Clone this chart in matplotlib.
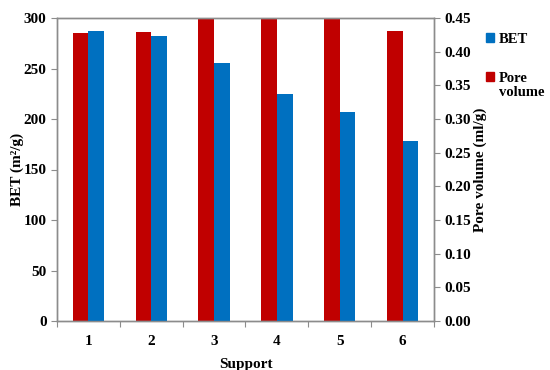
import matplotlib
matplotlib.use("Agg")
import matplotlib.pyplot as plt
import numpy as np
from matplotlib.patches import Patch

plt.rcParams['font.family'] = ['Liberation Serif', 'DejaVu Serif']
plt.rcParams['font.weight'] = 'bold'

categories = ['1', '2', '3', '4', '5', '6']
bet = [287.5, 282.5, 255, 224.5, 206.5, 178.5]
pore_volume = [0.428, 0.429, 0.47, 0.47, 0.47, 0.430]
left_ticks = [0, 50, 100, 150, 200, 250, 300]
right_ticks = [0.00, 0.05, 0.10, 0.15, 0.20, 0.25, 0.30, 0.35, 0.40, 0.45]

red = '#C00000'
blue = '#0070C0'
grey = '#8C8C8C'

fig = plt.figure(figsize=(5.5, 3.7), dpi=100)
ax = fig.add_axes([57/550, 49/370, (434-57)/550, (321-18)/370])
ax2 = ax.twinx()

x = np.arange(len(categories))
w = 0.25
ax2.bar(x - w/2, pore_volume, width=w, color=red, zorder=2)
ax.bar(x + w/2, bet, width=w, color=blue, zorder=2)

ax.set_xlim(-0.5, len(categories) - 0.5)
ax.set_ylim(0, 300)
ax2.set_ylim(0, 0.45)
ax.set_yticks(left_ticks)
ax.set_yticklabels([str(t) for t in left_ticks], fontsize=11, fontweight='bold')
ax2.set_yticks(right_ticks)
ax2.set_yticklabels([f"{t:.2f}" for t in right_ticks], fontsize=11, fontweight='bold')

ax.set_xticks(np.arange(-0.5, len(categories), 1.0))
ax.set_xticklabels([])
ax.set_xticks(x, minor=True)
ax.set_xticklabels(categories, minor=True, fontsize=11, fontweight='bold')
ax.tick_params(axis='x', which='minor', length=0, pad=10)
ax.tick_params(axis='x', which='major', length=4, direction='out', color=grey)
ax.tick_params(axis='y', length=4, direction='out', color=grey)
ax2.tick_params(axis='y', length=4, direction='out', color=grey)

for a in (ax, ax2):
    for s in a.spines.values():
        s.set_color(grey)
        s.set_linewidth(1.0)

ax.set_xlabel('Support', fontsize=11, fontweight='bold', labelpad=7)
ax.set_ylabel('BET (m²/g)', fontsize=11, fontweight='bold', labelpad=0)
ax2.set_ylabel('Pore volume (ml/g)', fontsize=11, fontweight='bold', labelpad=2)

ax2.set_zorder(1)
ax.set_zorder(2)
ax.patch.set_visible(False)

legend_font = {'family': 'Liberation Serif', 'weight': 'bold', 'size': 10.5}
handles = [Patch(color=blue, label='BET'), Patch(color=red, label='Pore')]
leg = fig.legend(handles=handles, loc='upper left', bbox_to_anchor=(486/550, 1 - 33/370),
                 frameon=False, handlelength=0.55, handleheight=0.55, handletextpad=0.35,
                 borderpad=0, borderaxespad=0,
                 labelspacing=1.75, prop=legend_font)

fig.canvas.draw()
bb = leg.get_texts()[1].get_window_extent(fig.canvas.get_renderer())
fig.text(bb.x0 / fig.bbox.width, (bb.y0 - 1) / fig.bbox.height, 'volume',
         ha='left', va='top', fontdict=legend_font)

fig.savefig('out.png', dpi=100)
